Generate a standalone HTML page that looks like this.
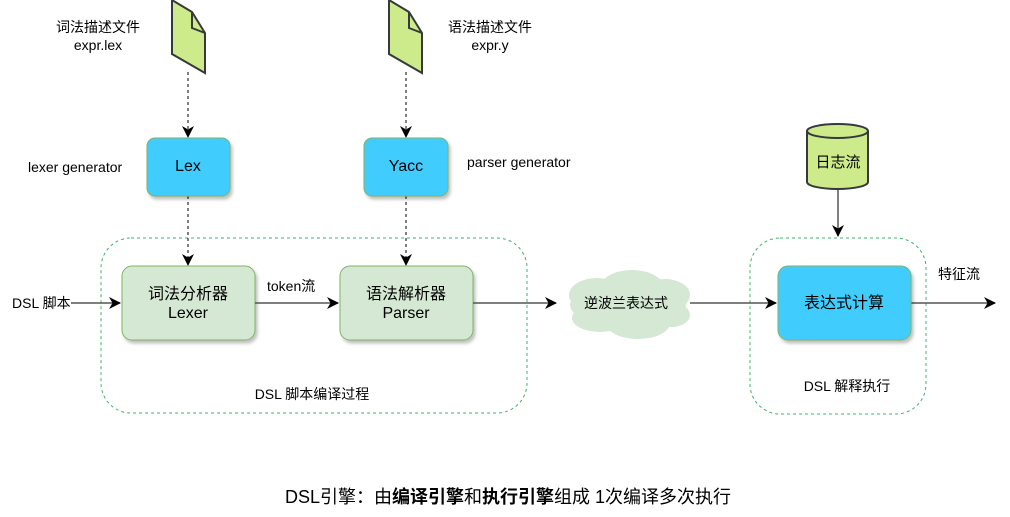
<!DOCTYPE html>
<html><head><meta charset="utf-8"><style>
html,body{margin:0;padding:0;background:#fff;}
svg{display:block;font-family:"Liberation Sans","Noto Sans CJK SC",sans-serif;}
</style></head><body>
<svg width="1010" height="517" viewBox="0 0 1010 517" xmlns="http://www.w3.org/2000/svg">
<defs>
<marker id="a" markerWidth="12" markerHeight="12" refX="11" refY="6" orient="auto" markerUnits="userSpaceOnUse"><path d="M0,0 L12,6 L0,12 L3.5,6 Z" fill="#000"/></marker>
<filter id="s" x="-10%" y="-10%" width="130%" height="130%"><feDropShadow dx="2" dy="3" stdDeviation="1.5" flood-color="#000" flood-opacity="0.25"/></filter>
</defs>
<rect x="101" y="238" width="426" height="175" rx="30" fill="none" stroke="#3cb371" stroke-dasharray="3,3"/>
<rect x="750" y="238" width="176" height="176" rx="30" fill="none" stroke="#3cb371" stroke-dasharray="3,3"/>
<path d="M172,0 L192,12 L205,33 L205,73 L172,54 Z" fill="#cdeb8b" stroke="#36393d" stroke-width="2"/>
<path d="M192,12 L192,28 L205,33" fill="none" stroke="#36393d" stroke-width="2"/>
<path d="M389,0 L409,12 L422,33 L422,73 L389,54 Z" fill="#cdeb8b" stroke="#36393d" stroke-width="2"/>
<path d="M409,12 L409,28 L422,33" fill="none" stroke="#36393d" stroke-width="2"/>
<g font-size="14" fill="#000" text-anchor="middle">
<text x="98" y="32">词法描述文件</text><text x="98" y="50">expr.lex</text>
<text x="490" y="32">语法描述文件</text><text x="490" y="50">expr.y</text>
</g>
<g stroke="#000" stroke-dasharray="3,3" marker-end="url(#a)">
<line x1="188" y1="72" x2="188" y2="137"/>
<line x1="406" y1="72" x2="406" y2="137"/>
<line x1="188" y1="196" x2="188" y2="265"/>
<line x1="406" y1="196" x2="406" y2="265"/>
</g>
<rect x="147" y="138" width="83" height="58" rx="8" fill="#3fcdfd" stroke="#82b366" filter="url(#s)"/>
<rect x="364" y="138" width="84" height="58" rx="8" fill="#3fcdfd" stroke="#82b366" filter="url(#s)"/>
<text x="188" y="171" font-size="16" text-anchor="middle">Lex</text>
<text x="406" y="171" font-size="16" text-anchor="middle">Yacc</text>
<text x="28" y="172" font-size="14">lexer generator</text>
<text x="467" y="167" font-size="14">parser generator</text>
<rect x="122" y="266" width="133" height="74" rx="10" fill="#d5e8d4" stroke="#82b366" filter="url(#s)"/>
<rect x="340" y="266" width="133" height="74" rx="10" fill="#d5e8d4" stroke="#82b366" filter="url(#s)"/>
<g font-size="16" text-anchor="middle">
<text x="188" y="299">词法分析器</text><text x="188" y="318">Lexer</text>
<text x="406" y="299">语法解析器</text><text x="406" y="318">Parser</text>
</g>
<g stroke="#555" stroke-width="1.5" marker-end="url(#a)">
<line x1="71" y1="303" x2="120" y2="303"/>
<line x1="255" y1="303" x2="338" y2="303"/>
<line x1="473" y1="303" x2="556" y2="303"/>
<line x1="690" y1="303" x2="776" y2="303"/>
<line x1="911" y1="303" x2="995" y2="303"/>
<line x1="838" y1="189" x2="838" y2="236"/>
</g>
<text x="12" y="308" font-size="14">DSL 脚本</text>
<text x="267" y="291" font-size="14">token流</text>
<text x="312" y="399" font-size="14" text-anchor="middle">DSL 脚本编译过程</text>
<g fill="#d5e8d4">
<ellipse cx="628" cy="305" rx="58" ry="22"/>
<ellipse cx="597" cy="295" rx="28" ry="17"/>
<ellipse cx="632" cy="288" rx="32" ry="18"/>
<ellipse cx="665" cy="295" rx="25" ry="16"/>
<ellipse cx="600" cy="318" rx="28" ry="14"/>
<ellipse cx="638" cy="323" rx="32" ry="16"/>
<ellipse cx="672" cy="315" rx="18" ry="12"/>
</g>
<text x="626" y="308" font-size="14" text-anchor="middle">逆波兰表达式</text>
<path d="M807,131 L807,182 A30.5,7 0 0 0 868,182 L868,131" fill="#cdeb8b" stroke="#36393d" stroke-width="2"/>
<ellipse cx="837.5" cy="131" rx="30.5" ry="7" fill="#cdeb8b" stroke="#36393d" stroke-width="2"/>
<text x="838" y="167" font-size="15" text-anchor="middle">日志流</text>
<rect x="778" y="266" width="133" height="74" rx="10" fill="#3fcdfd" stroke="#82b366" filter="url(#s)"/>
<text x="844" y="308" font-size="16" text-anchor="middle">表达式计算</text>
<text x="938" y="279" font-size="14">特征流</text>
<text x="847" y="391" font-size="14" text-anchor="middle">DSL 解释执行</text>
<text x="508" y="503" font-size="18" text-anchor="middle">DSL引擎：由<tspan font-weight="bold">编译引擎</tspan>和<tspan font-weight="bold">执行引擎</tspan>组成 1次编译多次执行</text>
</svg>
</body></html>
